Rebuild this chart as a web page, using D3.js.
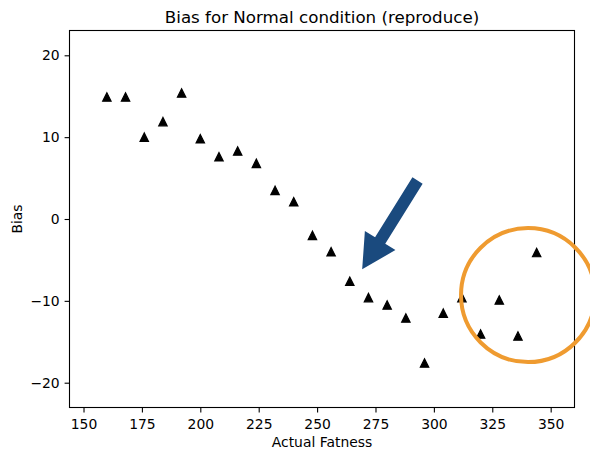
<!DOCTYPE html>
<html>
<head>
<meta charset="utf-8">
<script src="https://cdn.jsdelivr.net/npm/d3@7"></script>
<style>
  body { margin: 0; background: #fff; }
  svg { display: block; font-family: "DejaVu Sans", sans-serif; }
</style>
</head>
<body>
<div id="chart"></div>
<script>
// Data
const fatness = [160, 168, 176, 184, 192, 200, 208, 216, 224, 232, 240, 248,
                 256, 264, 272, 280, 288, 296, 304, 312, 320, 328, 336, 344];
const bias = [14.9, 14.9, 10.0, 11.9, 15.4, 9.8, 7.6, 8.3, 6.8, 3.5, 2.1, -2.0,
              -4.0, -7.6, -9.6, -10.5, -12.1, -17.6, -11.5, -9.6, -14.05, -9.9, -14.3, -4.1];
const xTicks = [150, 175, 200, 225, 250, 275, 300, 325, 350];
const yTicks = [-20, -10, 0, 10, 20];

// Annotations in data units
const arrowTail = [293.0, 4.7];
const arrowTip = [269.3, -6.15];
const circleCenter = [340.3, -9.3];

const W = 590, H = 450;
const margin = { top: 30.5, right: 15.5, bottom: 42.5, left: 69.5 };
const width = W - margin.left - margin.right;
const height = H - margin.top - margin.bottom;

const svg = d3.select("#chart")
    .append("svg")
    .attr("width", W)
    .attr("height", H);

const g = svg.append("g")
    .attr("transform", `translate(${margin.left},${margin.top})`);

const x = d3.scaleLinear().domain([144, 360.2]).range([0, width]);
const y = d3.scaleLinear().domain([-23.03, 23.03]).range([height, 0]);

// X axis
const xAxis = g.append("g")
    .attr("transform", `translate(0,${height})`)
    .call(d3.axisBottom(x).tickValues(xTicks).tickSize(4.9).tickSizeOuter(0).tickPadding(4.9));
xAxis.select(".domain").remove();
xAxis.selectAll("line").attr("stroke", "#000").attr("stroke-width", 1.1);
xAxis.selectAll("text")
    .attr("y", 21.5).attr("dy", 0)
    .attr("fill", "#000").style("font-size", "13.9px").style("font-family", "DejaVu Sans");

// Y axis
const yAxis = g.append("g")
    .call(d3.axisLeft(y).tickValues(yTicks).tickSize(4.9).tickSizeOuter(0).tickPadding(4.9));
yAxis.select(".domain").remove();
yAxis.selectAll("line").attr("stroke", "#000").attr("stroke-width", 1.1);
yAxis.selectAll("text")
    .attr("fill", "#000").style("font-size", "13.9px").style("font-family", "DejaVu Sans");

// Frame
g.append("rect")
    .attr("width", width)
    .attr("height", height)
    .attr("fill", "none")
    .attr("stroke", "#000")
    .attr("stroke-width", 1.1);

// Triangle markers
const h = 4.2;
g.selectAll("path.pt")
    .data(fatness.map((f, i) => ({ f, b: bias[i] })))
    .enter()
    .append("path")
    .attr("class", "pt")
    .attr("d", d => {
        const cx = x(d.f), cy = y(d.b);
        return `M${cx},${cy - h}L${cx - h},${cy + h}L${cx + h},${cy + h}Z`;
    })
    .attr("fill", "#000")
    .attr("stroke", "#000")
    .attr("stroke-width", 1.2)
    .attr("stroke-linejoin", "miter");

// Title and labels
svg.append("text")
    .attr("x", margin.left + width / 2)
    .attr("y", 22.5)
    .attr("text-anchor", "middle")
    .style("font-size", "16.7px")
    .text("Bias for Normal condition (reproduce)");

svg.append("text")
    .attr("x", margin.left + width / 2)
    .attr("y", 446.5)
    .attr("text-anchor", "middle")
    .style("font-size", "13.9px")
    .text("Actual Fatness");

svg.append("text")
    .attr("transform", `translate(21.7,${margin.top + height / 2}) rotate(-90)`)
    .attr("text-anchor", "middle")
    .style("font-size", "13.9px")
    .text("Bias");

// Blue arrow annotation
const tx = x(arrowTail[0]), ty = y(arrowTail[1]);
const px = x(arrowTip[0]), py = y(arrowTip[1]);
const len = Math.hypot(tx - px, ty - py);
const ang = Math.atan2(ty - py, tx - px) * 180 / Math.PI;
const headLen = 34, headW = 36, shaftW = 12;
g.append("path")
    .attr("transform", `translate(${px},${py}) rotate(${ang})`)
    .attr("d", `M0,0L${headLen},${-headW / 2}L${headLen},${-shaftW / 2}L${len},${-shaftW / 2}` +
               `L${len},${shaftW / 2}L${headLen},${shaftW / 2}L${headLen},${headW / 2}Z`)
    .attr("fill", "#1a4a7e");

// Orange circle annotation
g.append("circle")
    .attr("cx", x(circleCenter[0]))
    .attr("cy", y(circleCenter[1]))
    .attr("r", 67)
    .attr("fill", "none")
    .attr("stroke", "#ef9b30")
    .attr("stroke-width", 4);
</script>
</body>
</html>
